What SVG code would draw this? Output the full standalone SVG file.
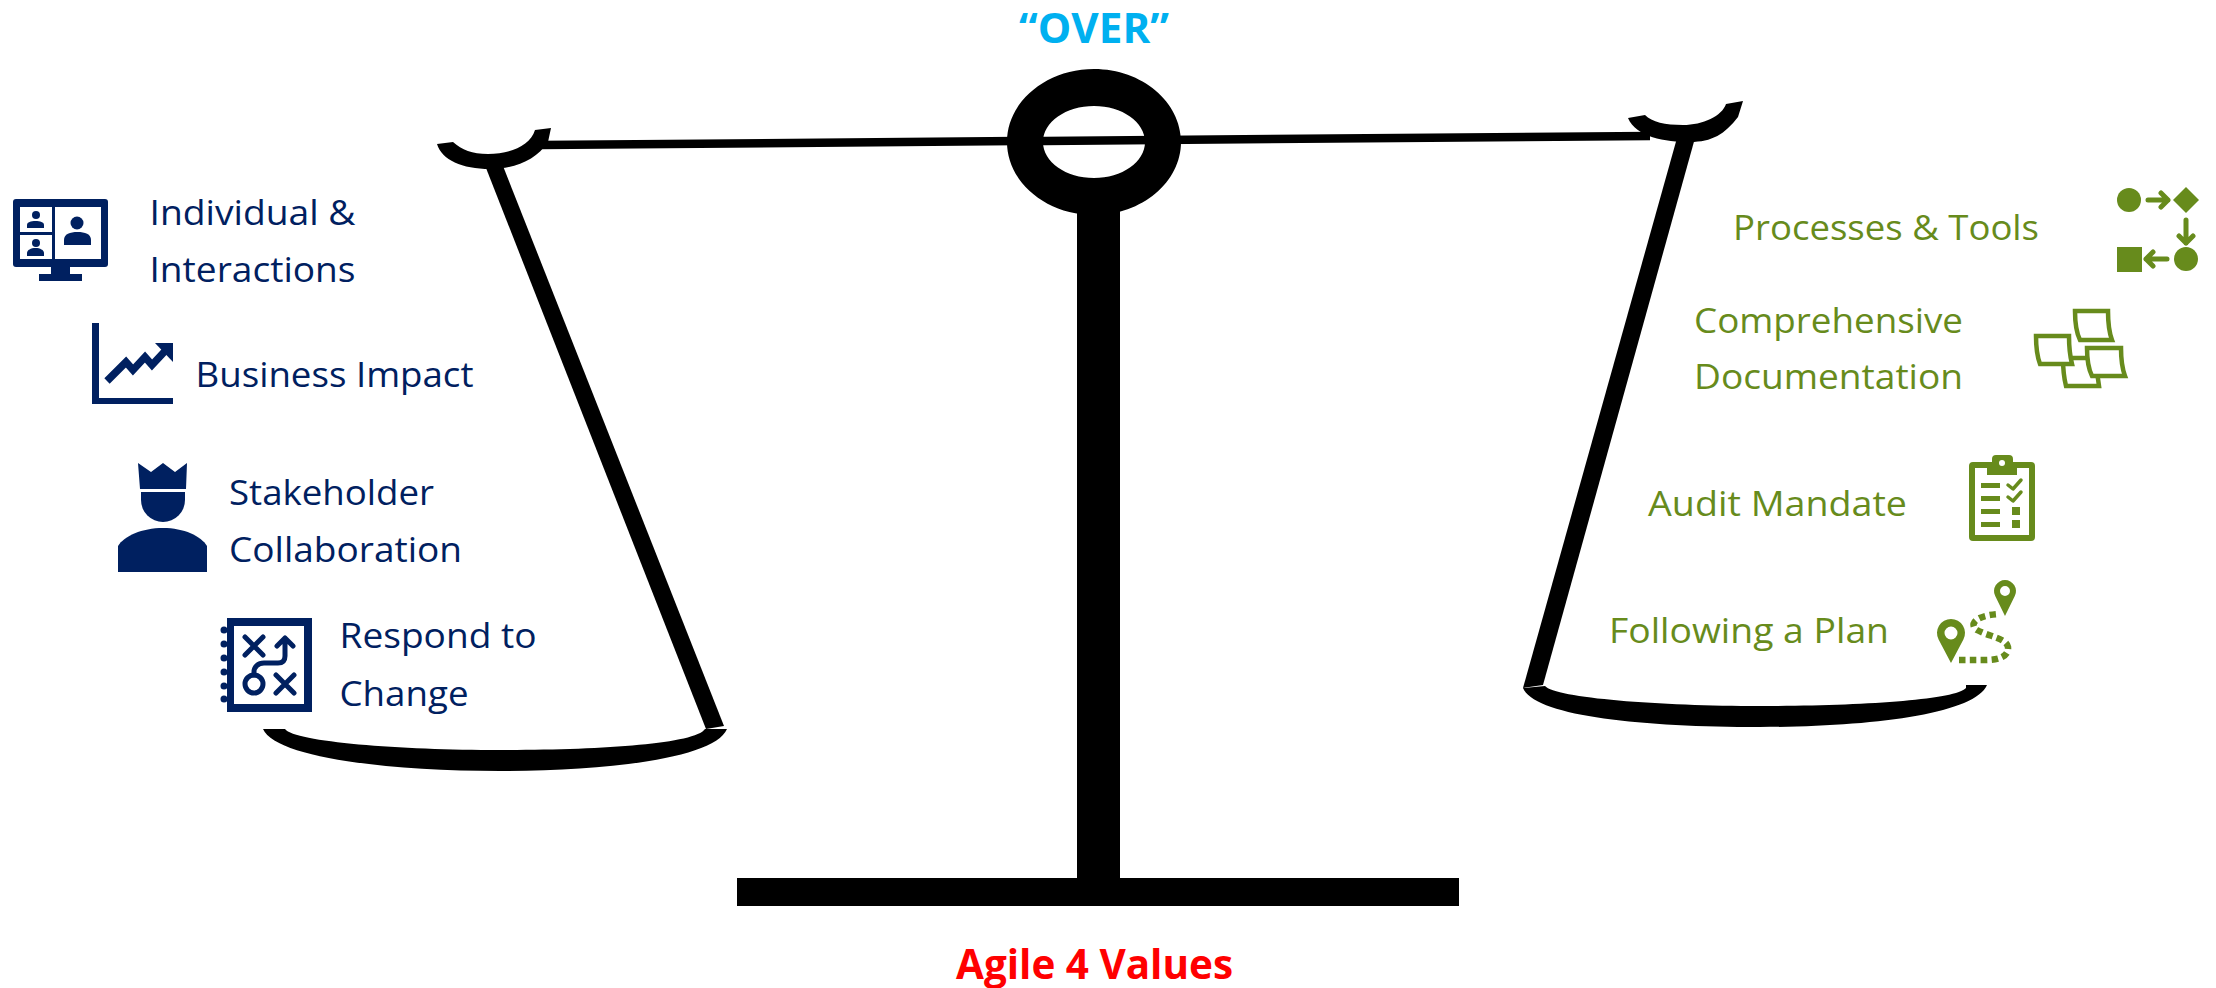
<svg xmlns="http://www.w3.org/2000/svg" width="2216" height="988" viewBox="0 0 2216 988">
<style>
text{font-family:"Open Sans","Noto Sans","Liberation Sans",sans-serif;font-size:35px}
.b{fill:#002060}.g{fill:#678b1c}.k{fill:#000}.w{fill:#fff}
.bl{fill:none;stroke:#002060;stroke-linecap:round;stroke-linejoin:round}
.gl{fill:none;stroke:#678b1c;stroke-linecap:round;stroke-linejoin:round}
.n{fill:#fff;stroke:#678b1c;stroke-width:4.5;stroke-linejoin:miter}
.t{font-weight:700;font-size:42px}
</style>
<rect width="2216" height="988" fill="#fff"/>
<g id="scale">
<rect class="k" x="1077" y="200" width="43" height="680"/>
<rect class="k" x="737" y="878" width="722" height="28"/>
<path class="k" d="M1094 69C1142 69 1181 102 1181 142C1181 182 1142 215 1094 215C1046 215 1007 182 1007 142C1007 102 1046 69 1094 69ZM1094 106C1066 106 1043 122 1043 142C1043 162 1066 178 1094 178C1122 178 1145 162 1145 142C1145 122 1122 106 1094 106Z" fill-rule="evenodd"/>
<path d="M540 145L1650 136" stroke="#000" stroke-width="8.5" fill="none"/>
<path class="k" d="M437 144L453 142C462 150 472 154 488 154C510 154 530 146 535 130L551 128L548 142C536 160 515 169 490 169C462 169 442 160 437 144Z"/>
<path class="k" d="M486 168L503 166L724 726L706 729Z"/>
<path class="k" d="M263 729H285C295 742 400 750 500 750C600 750 695 744 705 729H727C715 758 610 771 500 771C385 771 275 757 263 729Z"/>
<path class="k" d="M1628 118L1645 115C1652 122 1665 125 1683 125C1703 125 1722 116 1726 104L1743 101L1738 117C1725 134 1712 142 1690 142C1665 142 1636 137 1628 118Z"/>
<path class="k" d="M1677 138L1695 138L1543 685L1523 688Z"/>
<path class="k" d="M1523 688L1545 686C1555 698 1660 706 1760 706C1860 706 1955 700 1966 688V685H1987C1975 714 1870 727 1760 727C1640 727 1535 716 1523 688Z"/>
</g>
<g id="title-over"><text class="t" x="1019" y="43" fill="#00b0f0" textLength="150" lengthAdjust="spacingAndGlyphs">“OVER”</text></g>
<g id="title-agile"><text class="t" x="956" y="979" fill="#f00" textLength="277" lengthAdjust="spacingAndGlyphs">Agile 4 Values</text></g>

<g id="individual-interactions">
<rect class="b" x="13" y="199" width="95" height="68" rx="3"/>
<rect class="b" x="51" y="267" width="19" height="8"/><rect class="b" x="39" y="274" width="43" height="7"/>
<path class="w" d="M20 207H52V232H20ZM20 235H52V259H20ZM55 207H101V259H55Z"/>
<circle class="b" cx="77" cy="223" r="6.5"/><path class="b" d="M64 245V240C64 234 70 232 77.500 232C85 232 91 234 91 240V245Z"/>
<circle class="b" cx="36" cy="215" r="4"/><path class="b" d="M27 228V225C27 222 31 221 35.500 221C40 221 44 222 44 225V228Z"/>
<circle class="b" cx="36" cy="243" r="4"/><path class="b" d="M27 256V253C27 250 31 248 35.500 248C40 248 44 250 44 253V256Z"/>
<text class="b" x="149.500" y="225" textLength="206" lengthAdjust="spacingAndGlyphs">Individual &amp;</text>
<text class="b" x="149.500" y="282" textLength="206" lengthAdjust="spacingAndGlyphs">Interactions</text>
</g>
<g id="business-impact">
<path class="b" d="M92 323H99V398H173V404H92Z"/>
<path d="M107 381L126 362L133 370L145 357L152 365L166 350" fill="none" stroke="#002060" stroke-width="7.500"/>
<path class="b" d="M155 343H173V362Z"/>
<text class="b" x="195.500" y="387" textLength="278" lengthAdjust="spacingAndGlyphs">Business Impact</text>
</g>
<g id="stakeholder-collaboration">
<path class="b" d="M138 463L151 472L163 463L175 472L187 463L186 489H140Z"/>
<path class="b" d="M141 492H185V500A22 22 0 0 1 141 500Z"/>
<path class="b" d="M118 572V546C124 536 142 528 163 528C184 528 201 536 207 546V572Z"/>
<text class="b" x="229" y="505" textLength="205" lengthAdjust="spacingAndGlyphs">Stakeholder</text>
<text class="b" x="229" y="562" textLength="233" lengthAdjust="spacingAndGlyphs">Collaboration</text>
</g>
<g id="respond-to-change">
<path class="b" d="M227 618H312V712H227ZM234 626V704H304V626Z" fill-rule="evenodd"/>
<g class="b"><circle cx="224" cy="630" r="3.500"/><circle cx="224" cy="644" r="3.500"/><circle cx="224" cy="658" r="3.500"/><circle cx="224" cy="672" r="3.500"/><circle cx="224" cy="686" r="3.500"/><circle cx="224" cy="699" r="3.500"/></g>
<path class="bl" stroke-width="5" d="M245 637L263 655M263 637L245 655M276 675L294 693M294 675L276 693"/>
<circle class="bl" stroke-width="5" cx="254" cy="684" r="9"/>
<path class="bl" stroke-width="5" d="M254 675V672C254 667 258 663 264 663H278C283 663 285 660 285 656V638M277 646L285 638L293 646"/>
<text class="b" x="339.500" y="648" textLength="197" lengthAdjust="spacingAndGlyphs">Respond to</text>
<text class="b" x="339.500" y="706" textLength="129" lengthAdjust="spacingAndGlyphs">Change</text>
</g>

<g id="processes-tools">
<circle class="g" cx="2129" cy="200" r="12"/>
<path class="g" d="M2186 187L2199 200L2186 213L2173 200Z"/>
<circle class="g" cx="2186" cy="259" r="12"/>
<rect class="g" x="2117" y="247" width="25" height="25"/>
<path class="gl" stroke-width="5" d="M2148 200H2168M2161 193L2168 200L2161 207M2186 220V243M2179 236L2186 243L2193 236M2167 259H2146M2153 252L2146 259L2153 266"/>
<text class="g" x="1733" y="240" textLength="306" lengthAdjust="spacingAndGlyphs">Processes &amp; Tools</text>
</g>
<g id="comprehensive-documentation">
<path class="n" d="M2066 358H2095L2099 386H2066C2064 378 2063 372 2063 358Z"/>
<path class="n" d="M2036 336H2069C2069 348 2070 356 2072 364H2040C2037 356 2036 348 2036 336Z"/>
<path class="n" d="M2087 348H2121C2121 360 2122 368 2125 376H2092C2088 368 2087 360 2087 348Z"/>
<path class="n" d="M2075 311H2108C2108 323 2109 332 2112 340H2080C2076 332 2075 323 2075 311Z"/>
<text class="g" x="1694" y="333" textLength="269" lengthAdjust="spacingAndGlyphs">Comprehensive</text>
<text class="g" x="1694" y="389" textLength="269" lengthAdjust="spacingAndGlyphs">Documentation</text>
</g>
<g id="audit-mandate">
<path class="g" fill-rule="evenodd" d="M1973 462H2031Q2035 462 2035 466V537Q2035 541 2031 541H1973Q1969 541 1969 537V466Q1969 462 1973 462ZM1975 468V535H2029V468Z"/>
<path class="g" d="M1987 462H1992V459Q1992 455 1996 455H2009Q2013 455 2013 459V462H2017V475H1987Z"/>
<circle class="w" cx="2002" cy="463" r="3"/>
<path class="g" d="M1981 483H2000V488H1981ZM1981 496H2000V501H1981ZM1981 509H2000V514H1981ZM1981 522H2000V527H1981ZM2012 507H2020V515H2012ZM2012 520H2020V528H2012Z"/>
<path class="gl" stroke-width="3.500" stroke-linecap="butt" d="M2008 485L2013 489L2021 480M2008 497L2013 501L2021 492"/>
<text class="g" x="1648" y="516" textLength="259" lengthAdjust="spacingAndGlyphs">Audit Mandate</text>
</g>
<g id="following-a-plan">
<path class="g" fill-rule="evenodd" d="M1951 663L1938.600 639.500A14 14 0 1 1 1963.400 639.500ZM1951 626.500A6.500 6.500 0 1 0 1951 639.500A6.500 6.500 0 1 0 1951 626.500Z"/>
<path class="g" fill-rule="evenodd" d="M2005 616L1995.100 595.800A11 11 0 1 1 2014.900 595.800ZM2005 586A5 5 0 1 0 2005 596A5 5 0 1 0 2005 586Z"/>
<path fill="none" stroke="#678b1c" stroke-width="6.500" stroke-dasharray="6.500 4.300" d="M1959 660H1985C2000 660 2009 656 2008 647C2006 638 1990 637 1977 630C1970 626 1972 616 1998 614"/>
<text class="g" x="1609" y="643" textLength="280" lengthAdjust="spacingAndGlyphs">Following a Plan</text>
</g>
</svg>
